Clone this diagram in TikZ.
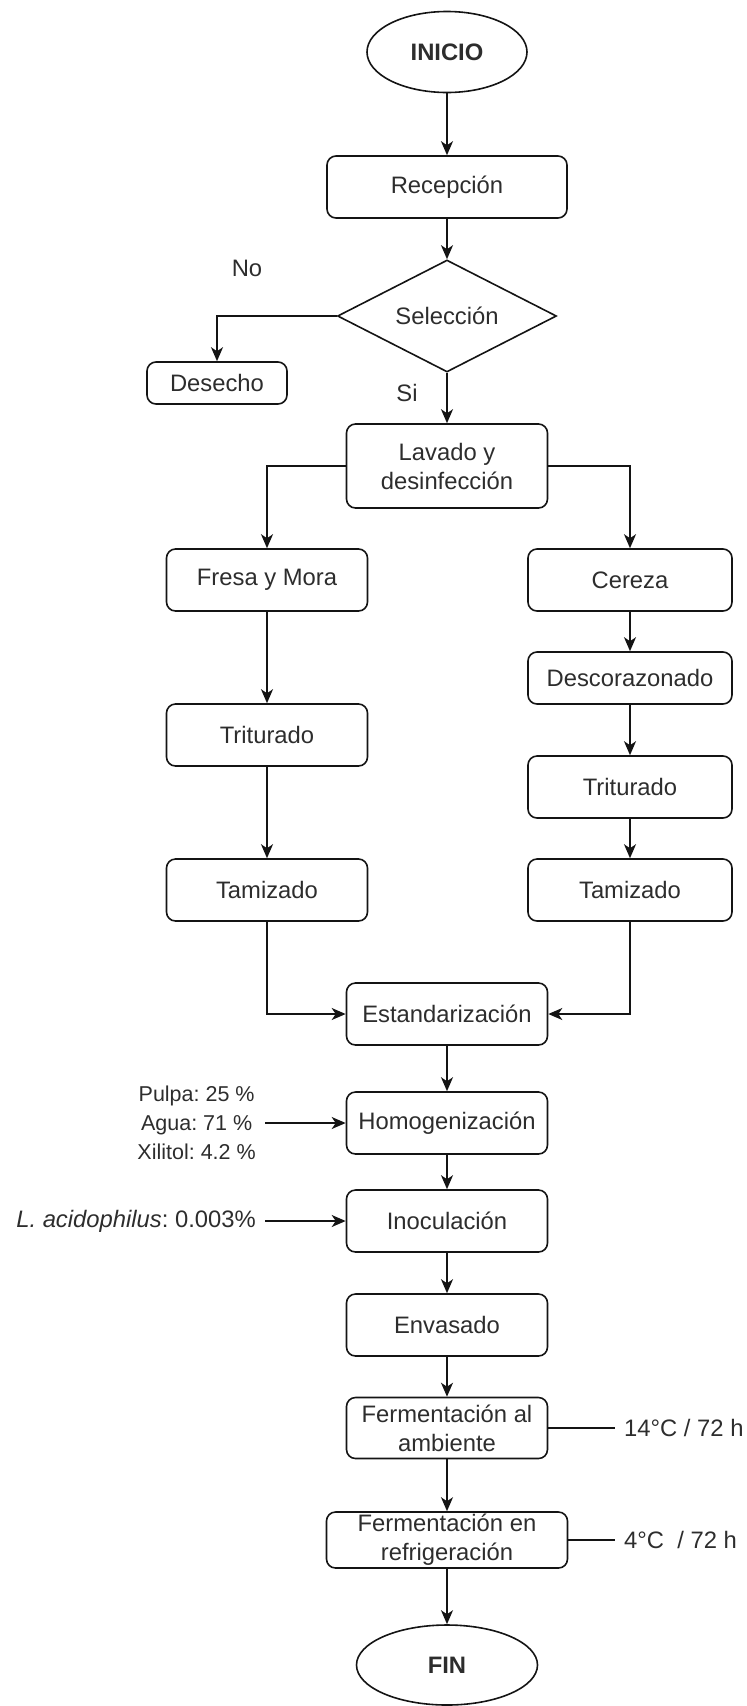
\documentclass[tikz,border=0pt]{standalone}
\usepackage{fontspec}
\setmainfont{Liberation Sans}
\usepackage{xcolor}
\usepackage{tikz}
\usetikzlibrary{shapes.geometric, arrows.meta, positioning}
\definecolor{textgray}{RGB}{45, 45, 45}
\definecolor{linedark}{RGB}{20, 20, 20}
\frenchspacing

\begin{document}
\begin{tikzpicture}[
    x=1pt, y={(0pt,-1pt)},
    every node/.style={font=\fontsize{23.8}{29}\selectfont, text=textgray},
    proc/.style={rectangle, draw=linedark, line width=1.6pt, rounded corners=9pt, minimum width=201pt, minimum height=62pt, inner sep=0pt, align=center},
    term/.style={ellipse, draw=linedark, line width=1.6pt, minimum width=160pt, minimum height=81pt, font=\fontsize{23.8}{29}\selectfont\bfseries},
    decis/.style={diamond, draw=linedark, line width=1.6pt, minimum width=219pt, minimum height=112pt, inner sep=0pt, aspect=1.96},
    side/.style={inner sep=9pt, align=center},
    arr/.style={draw=linedark, line width=1.6pt, -{Stealth[length=14pt, width=12pt, inset=4pt]}},
    plain/.style={draw=linedark, line width=1.6pt}
]
    \useasboundingbox (0,0) rectangle (747,1706);

    \node[term] (inicio) at (447,52) {INICIO};
    \node[proc, minimum width=240pt] (recep) at (447,187) {Recepción};
    \node[decis] (selec) at (447,316) {Selección};
    \node[proc, minimum width=140pt, minimum height=42pt] (desecho) at (217,383) {Desecho};
    \node (no) at (247,268) {No};
    \node (si) at (407,393) {Si};
    \node[proc, minimum height=84pt] (lavado) at (447,466) {Lavado y\\desinfección};

    \node[proc] (fresa) at (267,580) {Fresa y Mora};
    \node[proc] (trit1) at (267,735) {Triturado};
    \node[proc] (tamiz1) at (267,890) {Tamizado};

    \node[proc, minimum width=204pt] (cereza) at (630,580) {Cereza};
    \node[proc, minimum width=204pt, minimum height=52pt] (descor) at (630,678) {Descorazonado};
    \node[proc, minimum width=204pt] (trit2) at (630,787) {Triturado};
    \node[proc, minimum width=204pt] (tamiz2) at (630,890) {Tamizado};

    \node[proc] (estand) at (447,1014) {Estandarización};
    \node[proc] (homog) at (447,1123) {Homogenización};
    \node[proc] (inoc) at (447,1221) {Inoculación};
    \node[proc] (envas) at (447,1325) {Envasado};
    \node[proc, minimum height=61pt] (fermamb) at (447,1428) {Fermentación al\\ambiente};
    \node[proc, minimum width=241pt, minimum height=56pt] (fermref) at (447,1540) {Fermentación en\\refrigeración};
    \node[term, minimum width=181pt, minimum height=80pt] (fin) at (447,1665) {FIN};

    \node[side, anchor=east, font=\fontsize{21.5}{29}\selectfont] (ingr) at (265,1123) {Pulpa: 25 \%\\Agua: 71 \%\\Xilitol: 4.2 \%};
    \node[side, anchor=east] (lacid) at (265,1221) {\textit{L. acidophilus}: 0.003\%};
    \node[side, anchor=west] (cond1) at (615,1428) {14°C / 72 h};
    \node[side, anchor=west] (cond2) at (615,1540) {4°C~~/ 72 h};

    \draw[arr] (inicio) -- (recep);
    \draw[arr] (recep) -- (selec);
    \draw[arr] (selec.west) -| (desecho.north);
    \draw[arr] (selec) -- (lavado);
    \draw[arr] (lavado.west) -| (fresa.north);
    \draw[arr] (lavado.east) -| (cereza.north);
    \draw[arr] (fresa) -- (trit1);
    \draw[arr] (trit1) -- (tamiz1);
    \draw[arr] (cereza) -- (descor);
    \draw[arr] (descor) -- (trit2);
    \draw[arr] (trit2) -- (tamiz2);
    \draw[arr] (tamiz1.south) |- (estand.west);
    \draw[arr] (tamiz2.south) |- (estand.east);
    \draw[arr] (estand) -- (homog);
    \draw[arr] (homog) -- (inoc);
    \draw[arr] (inoc) -- (envas);
    \draw[arr] (envas) -- (fermamb);
    \draw[arr] (fermamb) -- (fermref);
    \draw[arr] (fermref) -- (fin);
    \draw[arr] (ingr.east) -- (homog.west);
    \draw[arr] (lacid.east) -- (inoc.west);
    \draw[plain] (fermamb.east) -- (cond1.west);
    \draw[plain] (fermref.east) -- (cond2.west);
\end{tikzpicture}
\end{document}
